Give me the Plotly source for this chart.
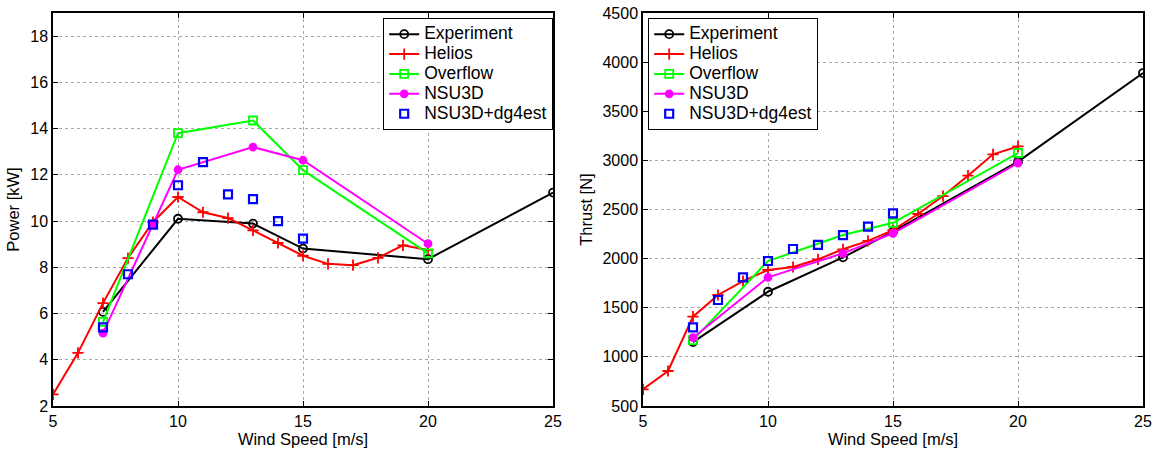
import plotly.graph_objects as go

# ---- Power [kW] (left) ----
exp_x = [7, 10, 13, 15, 20, 25]
exp_power = [6.07, 10.1, 9.89, 8.81, 8.35, 11.23]
hel_x = [5, 6, 7, 8, 9, 10, 11, 12, 13, 14, 15, 16, 17, 18, 19, 20]
hel_power = [2.5, 4.3, 6.45, 8.4, 9.96, 11.04, 10.38, 10.13, 9.6, 9.05, 8.5, 8.15, 8.09, 8.41, 8.95, 8.75]
ovf_x = [7, 10, 13, 15, 20]
ovf_power = [5.64, 13.8, 14.35, 12.2, 8.6]
nsu_x = [7, 9, 10, 13, 15, 20]
nsu_power = [5.15, 9.85, 12.22, 13.2, 12.63, 9.02]
dg_x = [7, 8, 9, 10, 11, 12, 13, 14, 15]
dg_power = [5.4, 7.7, 9.85, 11.55, 12.55, 11.15, 10.95, 10.0, 9.24]

# ---- Thrust [N] (right) ----
exp_thrust = [1150, 1663, 2013, 2274, 2987, 3889]
hel_thrust = [670, 856, 1409, 1630, 1772, 1884, 1915, 1993, 2095, 2180, 2290, 2454, 2637, 2844, 3062, 3143]
ovf_thrust = [1170, 1975, 2240, 2365, 3075]
nsu_thrust = [1195, 1810, 2054, 2258, 2973]
nsu_thrust_x = [7, 10, 13, 15, 20]
dg_thrust = [1301, 1579, 1810, 1976, 2098, 2139, 2240, 2325, 2460]

series_names = ["Experiment", "Helios", "Overflow", "NSU3D", "NSU3D+dg4est"]
x_ticks = [5, 10, 15, 20, 25]
power_ticks = [2, 4, 6, 8, 10, 12, 14, 16, 18]
thrust_ticks = [500, 1000, 1500, 2000, 2500, 3000, 3500, 4000, 4500]

FONT = "Liberation Sans, Arial, sans-serif"
W, H = 1157, 453
TOP, BOT = 13, 406
PH = BOT - TOP

fig = go.Figure()

def label(s):
    return '<span style="font-size:17.5px">' + s + '</span>'

def add_series(xa, ya, legend, xs, ys, name, color, symbol, size, mode="lines+markers", mlw=1.8):
    fig.add_trace(go.Scatter(
        x=xs, y=ys, name=label(name), mode=mode, xaxis=xa, yaxis=ya, legend=legend,
        line=dict(color=color, width=2),
        marker=dict(color=color, symbol=symbol, size=size, line=dict(color=color, width=mlw)),
    ))

for xa, ya, lg, e, h, o, n, nx, d in [
    ("x", "y", "legend", exp_power, hel_power, ovf_power, nsu_power, nsu_x, dg_power),
    ("x2", "y2", "legend2", exp_thrust, hel_thrust, ovf_thrust, nsu_thrust, nsu_thrust_x, dg_thrust),
]:
    add_series(xa, ya, lg, exp_x, e, series_names[0], "#000000", "circle-open", 8)
    add_series(xa, ya, lg, hel_x, h, series_names[1], "#ff0000", "cross-thin-open", 8)
    add_series(xa, ya, lg, ovf_x, o, series_names[2], "#00ff00", "square-open", 8)
    add_series(xa, ya, lg, nx, n, series_names[3], "#ff00ff", "circle", 7)
    add_series(xa, ya, lg, dg_x, d, series_names[4], "#0000ff", "square-open", 8, mode="markers", mlw=2.2)

axis_common = dict(
    showline=True, linecolor="black", linewidth=1.5, mirror="allticks",
    ticks="inside", ticklen=5, tickcolor="black", automargin=False,
    showgrid=True, gridcolor="#a8a8a8", griddash="dot", gridwidth=1,
    zeroline=False, tickfont=dict(size=16, color="black", family=FONT),
)

x1 = (53 / W, 553 / W)
x2 = (643 / W, 1143 / W)

legend_common = dict(xanchor="left", yanchor="top", bgcolor="white", bordercolor="black",
                     borderwidth=1.2, font=dict(size=13, family=FONT, color="black"),
                     tracegroupgap=0, itemwidth=30)

fig.update_layout(
    width=W, height=H,
    margin=dict(l=0, r=0, t=TOP, b=H - BOT),
    paper_bgcolor="white", plot_bgcolor="white",
    font=dict(family=FONT, size=16, color="black"),
    xaxis=dict(domain=list(x1), range=[5, 25], tickvals=x_ticks, anchor="y",
               title=dict(text="Wind Speed [m/s]", standoff=2, font=dict(size=16.5)), **axis_common),
    yaxis=dict(domain=[0, 1], range=[2, 19], tickvals=power_ticks, anchor="x",
               title=dict(text="Power [kW]", standoff=6, font=dict(size=16.5)), **axis_common),
    xaxis2=dict(domain=list(x2), range=[5, 25], tickvals=x_ticks, anchor="y2",
                title=dict(text="Wind Speed [m/s]", standoff=2, font=dict(size=16.5)), **axis_common),
    yaxis2=dict(domain=[0, 1], range=[500, 4500], tickvals=thrust_ticks, anchor="x2",
                title=dict(text="Thrust [N]", standoff=6, font=dict(size=16.5)), **axis_common),
    legend=dict(x=383 / W, y=(BOT - 18) / PH, **legend_common),
    legend2=dict(x=648 / W, y=(BOT - 18) / PH, **legend_common),
)

fig.write_html(
    "out.html",
    config={"displayModeBar": False},
    post_script="document.body.style.margin='0';document.body.style.overflow='hidden';",
)
